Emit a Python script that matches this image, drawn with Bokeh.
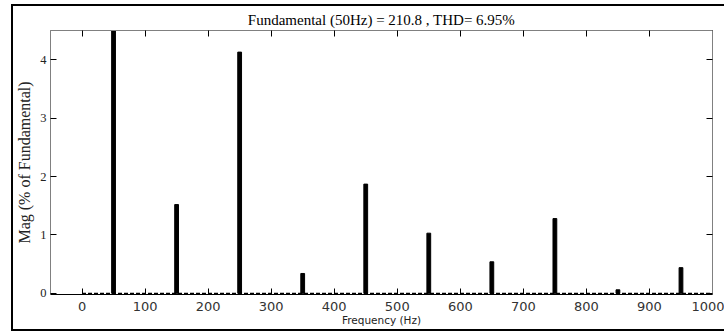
from bokeh.plotting import figure
from bokeh.models import LinearAxis, Range1d, FixedTicker
from bokeh.layouts import column
from bokeh.embed import file_html
from bokeh.resources import INLINE

# Data
harmonic_freqs = [50, 150, 250, 350, 450, 550, 650, 750, 850, 950]
harmonic_mags = [100.0, 1.52, 4.13, 0.34, 1.87, 1.03, 0.54, 1.28, 0.06, 0.44]
baseline_freqs = [0, 1000]
baseline_mags = [0, 0]
x_ticks = [0, 100, 200, 300, 400, 500, 600, 700, 800, 900, 1000]
y_ticks = [0, 1, 2, 3, 4]
title_text = "Fundamental (50Hz) = 210.8 , THD= 6.95%"

p = figure(width=711, height=323, output_backend="svg", toolbar_location=None,
           x_range=Range1d(-50, 1000), y_range=Range1d(-0.02, 4.5),
           x_axis_location=None, y_axis_location=None,
           min_border_left=35, min_border_right=12, min_border_top=24, min_border_bottom=35)

p.background_fill_color = "white"
p.border_fill_color = "white"
p.outline_line_color = "#808080"
p.outline_line_width = 1
p.xgrid.visible = False
p.ygrid.visible = False
p.title.text = ""
p.title.visible = False

bx = LinearAxis(axis_label="Frequency (Hz)")
tx = LinearAxis(axis_label=title_text)
ly = LinearAxis(axis_label="Mag (% of Fundamental)")
ry = LinearAxis()
for ax, ticks in ((bx, x_ticks), (tx, x_ticks), (ly, y_ticks), (ry, y_ticks)):
    ax.ticker = FixedTicker(ticks=ticks)
    ax.major_tick_in = 6
    ax.major_tick_out = 0
    ax.minor_tick_line_color = None
    ax.major_tick_line_color = "black"
    ax.axis_line_color = "#808080"

for ax in (tx, ry):
    ax.major_label_text_color = None
    ax.major_label_text_font_size = "4px"
    ax.major_label_standoff = 0

tx.axis_label_text_font = "Liberation Serif"
tx.axis_label_text_font_size = "15px"
tx.axis_label_text_font_style = "normal"
tx.axis_label_text_color = "black"
tx.axis_label_standoff = 3

bx.axis_line_color = "black"
bx.major_label_text_font = "DejaVu Sans"
bx.major_label_text_font_size = "13px"
bx.major_label_text_color = "#333333"
bx.major_label_standoff = 7
bx.axis_label_text_font = "DejaVu Sans"
bx.axis_label_text_font_size = "10.5px"
bx.axis_label_text_font_style = "normal"
bx.axis_label_text_color = "#222222"
bx.axis_label_standoff = 0

ly.major_label_text_font = "Liberation Serif"
ly.major_label_text_font_size = "12.5px"
ly.major_label_text_color = "#222222"
ly.major_label_standoff = 4
ly.axis_label_text_font = "Liberation Serif"
ly.axis_label_text_font_size = "16px"
ly.axis_label_text_font_style = "normal"
ly.axis_label_text_color = "#222222"
ly.axis_label_standoff = 4

p.add_layout(bx, "below")
p.add_layout(tx, "above")
p.add_layout(ly, "left")
p.add_layout(ry, "right")

p.line(baseline_freqs, baseline_mags, line_color="black", line_width=1.2, line_dash="4 2")
p.vbar(x=harmonic_freqs, top=harmonic_mags, bottom=0, width=6,
       fill_color="black", line_color="black")

page = column(p, margin=(4, 0, 0, 11),
              styles={"border-left": "2px solid black",
                      "border-top": "2px solid black",
                      "border-bottom": "2px solid black"})

open("out.html", "w").write(file_html(page, INLINE))
